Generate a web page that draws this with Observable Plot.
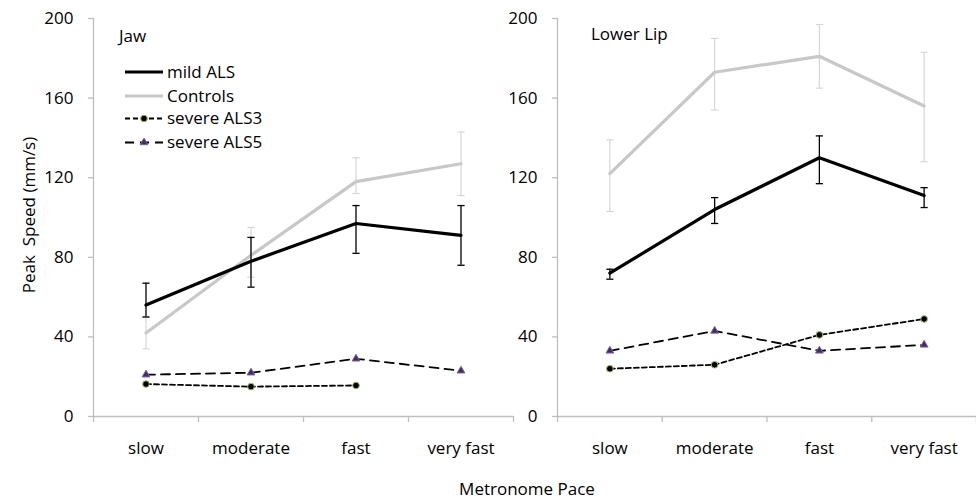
<!DOCTYPE html>
<html><head><meta charset="utf-8">
<script src="https://cdn.jsdelivr.net/npm/d3@7"></script>
<script src="https://cdn.jsdelivr.net/npm/@observablehq/plot@0.6"></script>
<style>
body{margin:0;background:#fff;}
#chart{position:relative;width:976px;height:504px;font-family:"Open Sans",sans-serif;color:#000;overflow:hidden;background:#fff}
.abs{position:absolute;white-space:nowrap;font-size:17px;line-height:1}
.plotbox{position:absolute;top:0}
</style></head><body><div id="chart"></div>
<script>
// ---------- data ----------
const paces = ["slow", "moderate", "fast", "very fast"];
const yTicks = [0, 40, 80, 120, 160, 200];
const seriesNames = ["mild ALS", "Controls", "severe ALS3", "severe ALS5"];
const panelTitles = ["Jaw", "Lower Lip"];

// Jaw
const jawMild = [56, 78, 97, 91];
const jawMildLo = [50, 65, 82, 76];
const jawMildHi = [67, 90, 106, 106];
const jawCtrl = [42, 81, 118, 127];
const jawCtrlLo = [34, 70, 112, 111];
const jawCtrlHi = [50, 95, 130, 143];
const jawALS3 = [16.3, 15, 15.6, null];
const jawALS5 = [21, 22, 29, 23];

// Lower Lip
const lipMild = [72, 104, 130, 111];
const lipMildLo = [69, 97, 117, 105];
const lipMildHi = [74, 110, 141, 115];
const lipCtrl = [122, 173, 181, 156];
const lipCtrlLo = [103, 154, 165, 128];
const lipCtrlHi = [139, 190, 197, 183];
const lipALS3 = [24, 26, 41, 49];
const lipALS5 = [33, 43, 33, 36];

// ---------- styles ----------
const styles = {
  "mild ALS": {stroke: "#000", strokeWidth: 3.2, dash: null, err: "#000", errW: 1.3},
  "Controls": {stroke: "#c8c8c8", strokeWidth: 3.2, dash: null, err: "#d3d3d3", errW: 1.1},
  "severe ALS3": {stroke: "#000", strokeWidth: 1.8, dash: "5,3", sym: "circle", fill: "#000", symStroke: "#9bbb59", r: 3.3},
  "severe ALS5": {stroke: "#000", strokeWidth: 1.8, dash: "9,6", sym: "triangle", fill: "#3f2f62", symStroke: "#8064a2", r: 2.9}
};

const capSymbol = {
  draw(ctx, size) {
    const h = Math.sqrt(size / Math.PI);
    ctx.moveTo(-h, 0);
    ctx.lineTo(h, 0);
  }
};

function rows(vals, lo, hi) {
  return vals.map((v, i) => ({xc: i + 0.5, pace: paces[i], value: v, lo: lo ? lo[i] : null, hi: hi ? hi[i] : null}));
}

function makePanel(p, width, marginLeft, marginRight) {
  const data = {
    "mild ALS": rows(p.mild, p.mildLo, p.mildHi),
    "Controls": rows(p.ctrl, p.ctrlLo, p.ctrlHi),
    "severe ALS3": rows(p.als3),
    "severe ALS5": rows(p.als5)
  };
  const marks = [
    Plot.ruleY([0], {stroke: "#bfbfbf", strokeWidth: 1.3}),
    Plot.ruleX([0], {stroke: "#bfbfbf", strokeWidth: 1.3}),
    Plot.axisX({ticks: [0, 1, 2, 3, 4], tickSize: 6, tickFormat: () => "", stroke: "#bfbfbf", strokeWidth: 1.3, label: null}),
    Plot.axisX({ticks: paces.map((d, i) => i + 0.5), tickSize: 0, tickPadding: 25, tickFormat: d => paces[Math.floor(d)], fill: "#000", label: null}),
    Plot.axisY({ticks: yTicks, tickSize: 5, tickFormat: () => "", stroke: "#bfbfbf", strokeWidth: 1.3, label: null}),
    Plot.axisY({ticks: yTicks, tickSize: 0, tickPadding: 20, fill: "#000", label: null})
  ];
  for (const s of ["Controls", "mild ALS"]) {
    const st = styles[s];
    marks.push(
      Plot.ruleX(data[s], {x: "xc", y1: "lo", y2: "hi", stroke: st.err, strokeWidth: st.errW}),
      Plot.dot(data[s], {x: "xc", y: "lo", symbol: capSymbol, r: 3.6, fill: "none", stroke: st.err, strokeWidth: st.errW}),
      Plot.dot(data[s], {x: "xc", y: "hi", symbol: capSymbol, r: 3.6, fill: "none", stroke: st.err, strokeWidth: st.errW}),
      Plot.line(data[s], {x: "xc", y: "value", stroke: st.stroke, strokeWidth: st.strokeWidth})
    );
  }
  for (const s of ["severe ALS3", "severe ALS5"]) {
    const st = styles[s];
    marks.push(
      Plot.line(data[s], {x: "xc", y: "value", stroke: st.stroke, strokeWidth: st.strokeWidth, strokeDasharray: st.dash}),
      Plot.dot(data[s].filter(d => d.value != null), {x: "xc", y: "value", symbol: st.sym, r: st.r, fill: st.fill, stroke: st.symStroke, strokeWidth: 1})
    );
  }
  return Plot.plot({
    width, height: 470,
    marginTop: 18, marginBottom: 54, marginLeft, marginRight,
    style: {fontFamily: "Open Sans, sans-serif", fontSize: "17px", color: "#000", background: "transparent", overflow: "visible"},
    x: {type: "linear", domain: [0, 4], axis: null},
    y: {domain: [0, 200], axis: null, label: null},
    marks
  });
}

const chart = document.getElementById("chart");

const left = makePanel({mild: jawMild, mildLo: jawMildLo, mildHi: jawMildHi, ctrl: jawCtrl, ctrlLo: jawCtrlLo, ctrlHi: jawCtrlHi, als3: jawALS3, als5: jawALS5}, 520, 93, 7);
const right = makePanel({mild: lipMild, mildLo: lipMildLo, mildHi: lipMildHi, ctrl: lipCtrl, ctrlLo: lipCtrlLo, ctrlHi: lipCtrlHi, als3: lipALS3, als5: lipALS5}, 476, 57, 0);

const lb = document.createElement("div"); lb.className = "plotbox"; lb.style.left = "0px"; lb.appendChild(left); chart.appendChild(lb);
const rb = document.createElement("div"); rb.className = "plotbox"; rb.style.left = "500px"; rb.appendChild(right); chart.appendChild(rb);

function addText(txt, x, y, extra) {
  const d = document.createElement("div");
  d.className = "abs";
  d.textContent = txt;
  d.style.left = x + "px";
  d.style.top = y + "px";
  if (extra) Object.assign(d.style, extra);
  chart.appendChild(d);
  return d;
}
// panel titles
addText(panelTitles[0], 119, 27);
addText(panelTitles[1], 591, 25);
// axis titles
addText("Metronome Pace", 527, 480, {transform: "translateX(-50%)"});
addText("Peak  Speed (mm/s)", 28, 215, {transform: "translate(-50%,-50%) rotate(-90deg)", whiteSpace: "pre"});

// legend
const legend = d3.select(chart).append("svg")
  .style("position", "absolute").style("left", "0px").style("top", "0px")
  .attr("width", 330).attr("height", 160)
  .style("font-family", "Open Sans, sans-serif").style("font-size", "17px");
const legY = [72, 96, 118.5, 142.5];
seriesNames.forEach((s, i) => {
  const st = styles[s];
  const g = legend.append("g").attr("transform", `translate(0,${legY[i]})`);
  g.append("line").attr("x1", 125).attr("x2", 163).attr("y1", 0).attr("y2", 0)
    .attr("stroke", st.stroke).attr("stroke-width", st.strokeWidth)
    .attr("stroke-dasharray", st.dash);
  if (st.sym) {
    const sym = st.sym === "circle" ? d3.symbolCircle : d3.symbolTriangle;
    g.append("path").attr("transform", "translate(144,0)")
      .attr("d", d3.symbol(sym, Math.PI * st.r * st.r)())
      .attr("fill", st.fill).attr("stroke", st.symStroke).attr("stroke-width", 1);
  }
  g.append("text").attr("x", 167).attr("y", 0).attr("dy", "0.35em").attr("fill", "#000").text(s);
});
</script>
</body></html>
